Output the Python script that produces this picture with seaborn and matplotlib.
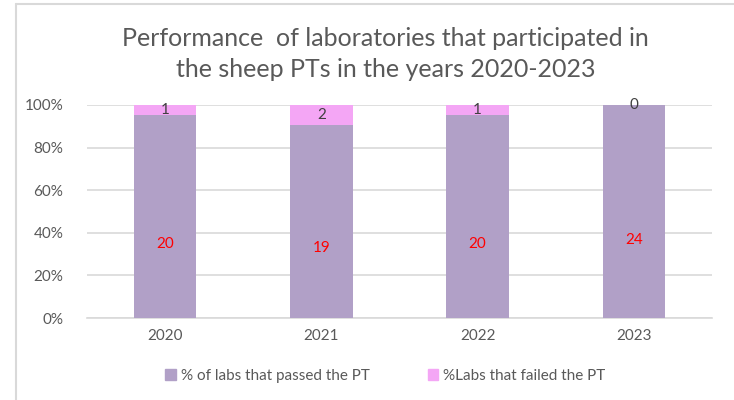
import numpy as np
import pandas as pd
import matplotlib
matplotlib.use("Agg")
import matplotlib.pyplot as plt
import seaborn as sns
from matplotlib.lines import Line2D
from matplotlib.patches import Patch
from matplotlib.ticker import PercentFormatter

# data
years = ["2020", "2021", "2022", "2023"]
passed = [20, 19, 20, 24]
failed = [1, 2, 1, 0]

df = pd.DataFrame({"year": years, "passed": passed, "failed": failed})
df["total"] = df["passed"] + df["failed"]
df["passed_pct"] = df["passed"] / df["total"]
df["total_pct"] = df["total"] / df["total"]

purple = "#B1A0C7"
pink = "#F4A6F5"
text_gray = "#595959"

sns.set_theme(style="white")
plt.rcParams["font.family"] = ["Lato", "DejaVu Sans"]

fig = plt.figure(figsize=(7.34, 4.0), dpi=100)
ax = fig.add_axes([0.1185, 0.205, 0.8515, 0.5325])

# stacked 100% bars: failed on top of passed
sns.barplot(data=df, x="year", y="total_pct", color=pink, width=0.4,
            saturation=1, linewidth=0, ax=ax, zorder=2)
sns.barplot(data=df, x="year", y="passed_pct", color=purple, width=0.4,
            saturation=1, linewidth=0, ax=ax, zorder=3)

ax.set_ylim(0, 1)
ax.set_xlim(-0.5, 3.5)
ax.set_yticks(np.arange(0, 1.01, 0.2))
ax.yaxis.set_major_formatter(PercentFormatter(1.0, decimals=0))
ax.grid(axis="y", color="#D9D9D9", lw=1.2, zorder=0)
ax.set_axisbelow(True)
for s in ["left", "right", "top"]:
    ax.spines[s].set_visible(False)
ax.spines["bottom"].set_color("#D9D9D9")
ax.spines["bottom"].set_linewidth(1.2)
ax.tick_params(axis="both", length=0, labelsize=11, colors=text_gray, pad=8)
ax.tick_params(axis="y", pad=17)
ax.set_xlabel("")
ax.set_ylabel("")

# data labels
for i, row in df.iterrows():
    ax.text(i, row["passed_pct"] * 0.365, str(row["passed"]), ha="center",
            va="center", color="#FF0000", fontsize=11, zorder=5)
    ax.text(i, (row["passed_pct"] + row["total_pct"]) / 2, str(row["failed"]),
            ha="center", va="center", color="#404040", fontsize=11, zorder=5)

fig.text(0.525, 0.865, "Performance  of laboratories that participated in\nthe sheep PTs in the years 2020-2023",
         ha="center", va="center", fontsize=18, color=text_gray, linespacing=1.38)

handles = [Patch(color=purple), Patch(color=pink)]
fig.legend(handles, ["% of labs that passed the PT", "%Labs that failed the PT"],
           loc="center", bbox_to_anchor=(0.525, 0.06), ncol=2, frameon=False,
           fontsize=11, labelcolor=text_gray, handlelength=0.7, handleheight=0.7,
           handletextpad=0.3, columnspacing=3.8)

# chart frame (left and top edges visible)
fig.add_artist(Line2D([16 / 734, 16 / 734], [0, 1 - 4 / 400], color="#D9D9D9", lw=1.5))
fig.add_artist(Line2D([16 / 734, 1], [1 - 4 / 400, 1 - 4 / 400], color="#D9D9D9", lw=1.5))

fig.savefig("out.png", dpi=100, facecolor="white")
